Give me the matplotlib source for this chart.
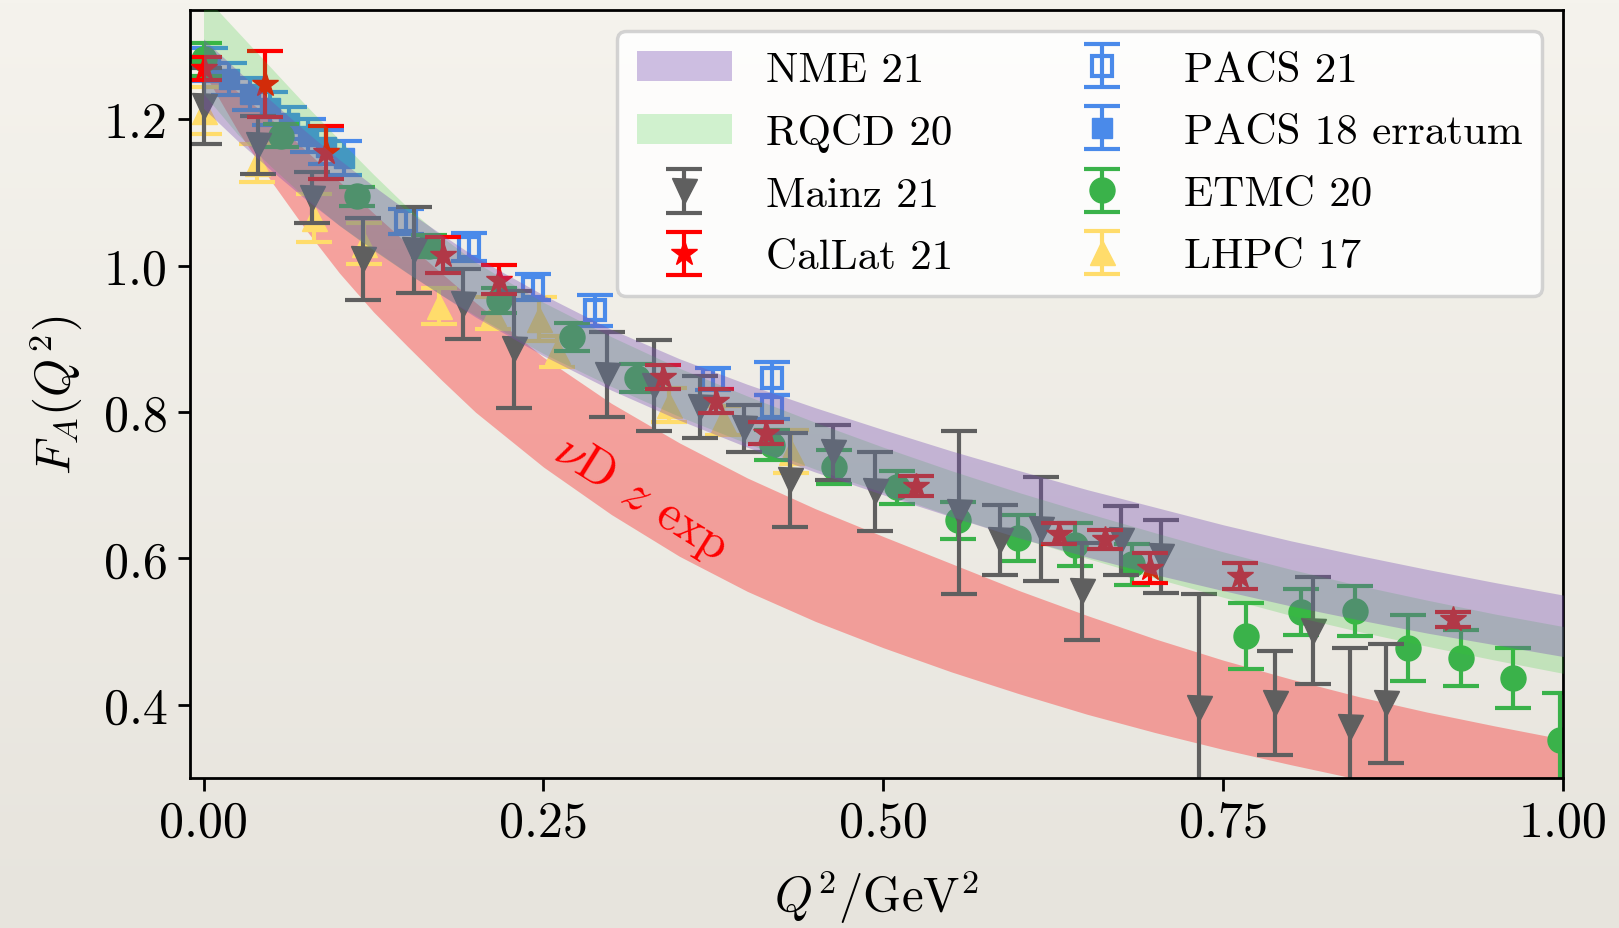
import matplotlib
matplotlib.use('Agg')
import matplotlib.pyplot as plt
import numpy as np
from matplotlib.colors import LinearSegmentedColormap

plt.rcParams['font.family'] = 'serif'
plt.rcParams['font.serif'] = ['cmr10']
plt.rcParams['mathtext.fontset'] = 'cm'
plt.rcParams['axes.formatter.use_mathtext'] = True

# --- bands (Q^2 grid, lower / upper edge) ---
q2_band = [0.0, 0.025, 0.05, 0.075, 0.1, 0.125, 0.15, 0.175, 0.2, 0.25, 0.3, 0.35, 0.4, 0.45,
           0.5, 0.55, 0.6, 0.65, 0.7, 0.75, 0.8, 0.85, 0.9, 0.95, 1.0]
nme_lo = [1.215, 1.171, 1.13, 1.091, 1.055, 1.022, 0.99, 0.96, 0.93, 0.877, 0.83, 0.789, 0.752, 0.718,
          0.687, 0.657, 0.628, 0.602, 0.578, 0.556, 0.535, 0.516, 0.498, 0.482, 0.466]
nme_hi = [1.31, 1.267, 1.225, 1.184, 1.145, 1.109, 1.075, 1.043, 1.012, 0.96, 0.913, 0.873, 0.838, 0.806,
          0.776, 0.747, 0.72, 0.694, 0.67, 0.646, 0.624, 0.604, 0.585, 0.567, 0.55]
rqcd_lo = [1.235, 1.18, 1.135, 1.093, 1.055, 1.021, 0.99, 0.96, 0.932, 0.88, 0.835, 0.794, 0.757, 0.722,
           0.69, 0.658, 0.628, 0.6, 0.573, 0.547, 0.522, 0.5, 0.48, 0.461, 0.443]
rqcd_hi = [1.37, 1.32, 1.27, 1.22, 1.172, 1.125, 1.08, 1.04, 1.005, 0.95, 0.903, 0.86, 0.822, 0.786,
           0.752, 0.72, 0.69, 0.662, 0.635, 0.609, 0.585, 0.563, 0.543, 0.524, 0.507]
nud_lo = [1.265, 1.185, 1.115, 1.05, 0.99, 0.937, 0.89, 0.844, 0.80, 0.725, 0.66, 0.603, 0.555, 0.514,
          0.478, 0.445, 0.415, 0.387, 0.362, 0.339, 0.318, 0.298, 0.28, 0.263, 0.248]
nud_hi = [1.275, 1.238, 1.2, 1.158, 1.115, 1.072, 1.03, 0.99, 0.95, 0.875, 0.812, 0.758, 0.71, 0.668,
          0.63, 0.593, 0.556, 0.522, 0.49, 0.461, 0.435, 0.411, 0.39, 0.371, 0.353]

# --- lattice points ---
mainz_q2 = [0.0, 0.040, 0.080, 0.117, 0.155, 0.191, 0.228, 0.297, 0.331, 0.365, 0.3975, 0.431, 0.463,
            0.494, 0.556, 0.586, 0.616, 0.646, 0.675, 0.704, 0.732, 0.788, 0.816, 0.843, 0.870]
mainz_fa = [1.218, 1.165, 1.093, 1.009, 1.022, 0.948, 0.886, 0.851, 0.836, 0.807, 0.778, 0.707, 0.745,
            0.692, 0.663, 0.625, 0.640, 0.555, 0.625, 0.603, 0.396, 0.402, 0.501, 0.369, 0.402]
mainz_err = [0.052, 0.040, 0.035, 0.056, 0.059, 0.048, 0.080, 0.058, 0.062, 0.042, 0.032, 0.064, 0.038,
             0.054, 0.111, 0.048, 0.071, 0.066, 0.047, 0.050, 0.156, 0.071, 0.073, 0.108, 0.081]

callat_q2 = [0.0, 0.0455, 0.090, 0.176, 0.2175, 0.338, 0.377, 0.414, 0.524, 0.629, 0.663, 0.696, 0.762, 0.919]
callat_fa = [1.27, 1.248, 1.155, 1.015, 0.981, 0.848, 0.815, 0.771, 0.699, 0.634, 0.626, 0.587, 0.576, 0.517]
callat_err = [0.016, 0.045, 0.036, 0.025, 0.020, 0.017, 0.016, 0.015, 0.014, 0.014, 0.013, 0.020, 0.018, 0.010]

pacs21_q2 = [0.149, 0.195, 0.242, 0.288, 0.375, 0.418, 0.418]
pacs21_fa = [1.061, 1.026, 0.971, 0.939, 0.845, 0.846, 0.807]
pacs21_err = [0.017, 0.019, 0.018, 0.021, 0.015, 0.023, 0.016]

pacs18_q2 = [0.005, 0.019, 0.034, 0.049, 0.063, 0.077, 0.090, 0.103]
pacs18_fa = [1.275, 1.255, 1.235, 1.215, 1.195, 1.178, 1.162, 1.147]
pacs18_err = [0.022, 0.022, 0.022, 0.022, 0.022, 0.023, 0.023, 0.023]

etmc_q2 = [0.0, 0.057, 0.113, 0.166, 0.2175, 0.271, 0.319, 0.418, 0.464, 0.51, 0.555, 0.599, 0.641,
           0.683, 0.767, 0.807, 0.847, 0.886, 0.925, 0.963, 0.998]
etmc_fa = [1.282, 1.178, 1.095, 1.027, 0.953, 0.903, 0.847, 0.755, 0.725, 0.697, 0.652, 0.628, 0.619,
           0.592, 0.494, 0.527, 0.528, 0.478, 0.464, 0.436, 0.352]
etmc_err = [0.023, 0.016, 0.013, 0.015, 0.017, 0.019, 0.019, 0.020, 0.023, 0.023, 0.025, 0.032, 0.029,
            0.028, 0.045, 0.031, 0.034, 0.045, 0.038, 0.041, 0.064]

lhpc_q2 = [0.0, 0.039, 0.0815, 0.118, 0.173, 0.213, 0.247, 0.260, 0.342, 0.382, 0.432]
lhpc_fa = [1.212, 1.140, 1.065, 1.030, 0.945, 0.935, 0.927, 0.883, 0.810, 0.789, 0.746]
lhpc_err = [0.032, 0.026, 0.033, 0.028, 0.025, 0.022, 0.030, 0.021, 0.023, 0.020, 0.029]


fig = plt.figure(figsize=(16.19, 9.29), dpi=100)

# paper-like background
bg = fig.add_axes([0, 0, 1, 1], zorder=-10)
paper = LinearSegmentedColormap.from_list('paper', ['#f5f3ed', '#e7e4dd'])
bg.imshow(np.linspace(0, 1, 256).reshape(-1, 1), aspect='auto', cmap=paper, extent=[0, 1, 0, 1])
bg.axis('off')

ax = fig.add_axes([0.1173, 0.1615, 0.9655 - 0.1173, 0.9885 - 0.1615])
ax.set_facecolor('none')

# experimental band sits under the lattice points
ax.fill_between(q2_band, nud_lo, nud_hi, color='red', alpha=0.32, lw=0, zorder=1.5)

eb = dict(linestyle='none', capsize=13, elinewidth=3, capthick=3)

h_lhpc = ax.errorbar(lhpc_q2, lhpc_fa, yerr=lhpc_err, fmt='^', color='#ffdc6b', ms=18, zorder=2.0,
                     label='LHPC 17', **eb)
h_pacs18 = ax.errorbar(pacs18_q2, pacs18_fa, yerr=pacs18_err, fmt='s', color='#4a8aea', ms=14, zorder=2.1,
                       label='PACS 18 erratum', **eb)
h_pacs21 = ax.errorbar(pacs21_q2, pacs21_fa, yerr=pacs21_err, fmt='s', color='#4a8aea', ms=14, mfc='none',
                       mew=3, zorder=2.2, label='PACS 21', **eb)
h_etmc = ax.errorbar(etmc_q2, etmc_fa, yerr=etmc_err, fmt='o', color='#3ab24a', ms=18, zorder=2.3,
                     label='ETMC 20', **eb)
h_mainz = ax.errorbar(mainz_q2, mainz_fa, yerr=mainz_err, fmt='v', color='#5f5f5f', ms=18, zorder=2.4,
                      label='Mainz 21', **eb)
h_callat = ax.errorbar(callat_q2, callat_fa, yerr=callat_err, fmt='*', color='#ff0000', ms=19, zorder=2.5,
                       label='CalLat 21', **eb)

# lattice bands drawn over the points
h_rqcd = ax.fill_between(q2_band, rqcd_lo, rqcd_hi, color='limegreen', alpha=0.22, lw=0, zorder=3.1,
                         label='RQCD 20')
h_nme = ax.fill_between(q2_band, nme_lo, nme_hi, color='#7850b4', alpha=0.36, lw=0, zorder=3.2,
                        label='NME 21')

ax.text(0.322, 0.683, r'$\nu$D $z$ exp', color='red', fontsize=36, rotation=-32,
        ha='center', va='center', zorder=4)

ax.set_xlim(-0.01, 1.0)
ax.set_ylim(0.3, 1.35)
ax.set_xticks([0.0, 0.25, 0.5, 0.75, 1.0])
ax.set_xticklabels(['0.00', '0.25', '0.50', '0.75', '1.00'])
ax.set_yticks([0.4, 0.6, 0.8, 1.0, 1.2])
ax.set_yticklabels(['0.4', '0.6', '0.8', '1.0', '1.2'])
ax.tick_params(labelsize=36, length=9, width=2, pad=7)
for s in ax.spines.values():
    s.set_linewidth(2)

ax.set_xlabel(r'$Q^2/\mathrm{GeV}^2$', fontsize=35, labelpad=15)
ax.set_ylabel(r'$F_A(Q^2)$', fontsize=35, labelpad=14)

leg = ax.legend(handles=[h_nme, h_rqcd, h_mainz, h_callat, h_pacs21, h_pacs18, h_etmc, h_lhpc],
                ncol=2, loc='upper right', fontsize=31, fancybox=True, framealpha=0.85,
                edgecolor='#cccccc', handlelength=2.2, handletextpad=0.8, columnspacing=2.35,
                labelspacing=0.56, borderaxespad=0.5, borderpad=0.45)
leg.set_zorder(10)
leg.get_frame().set_linewidth(2.5)

fig.savefig('out.png', dpi=100)
